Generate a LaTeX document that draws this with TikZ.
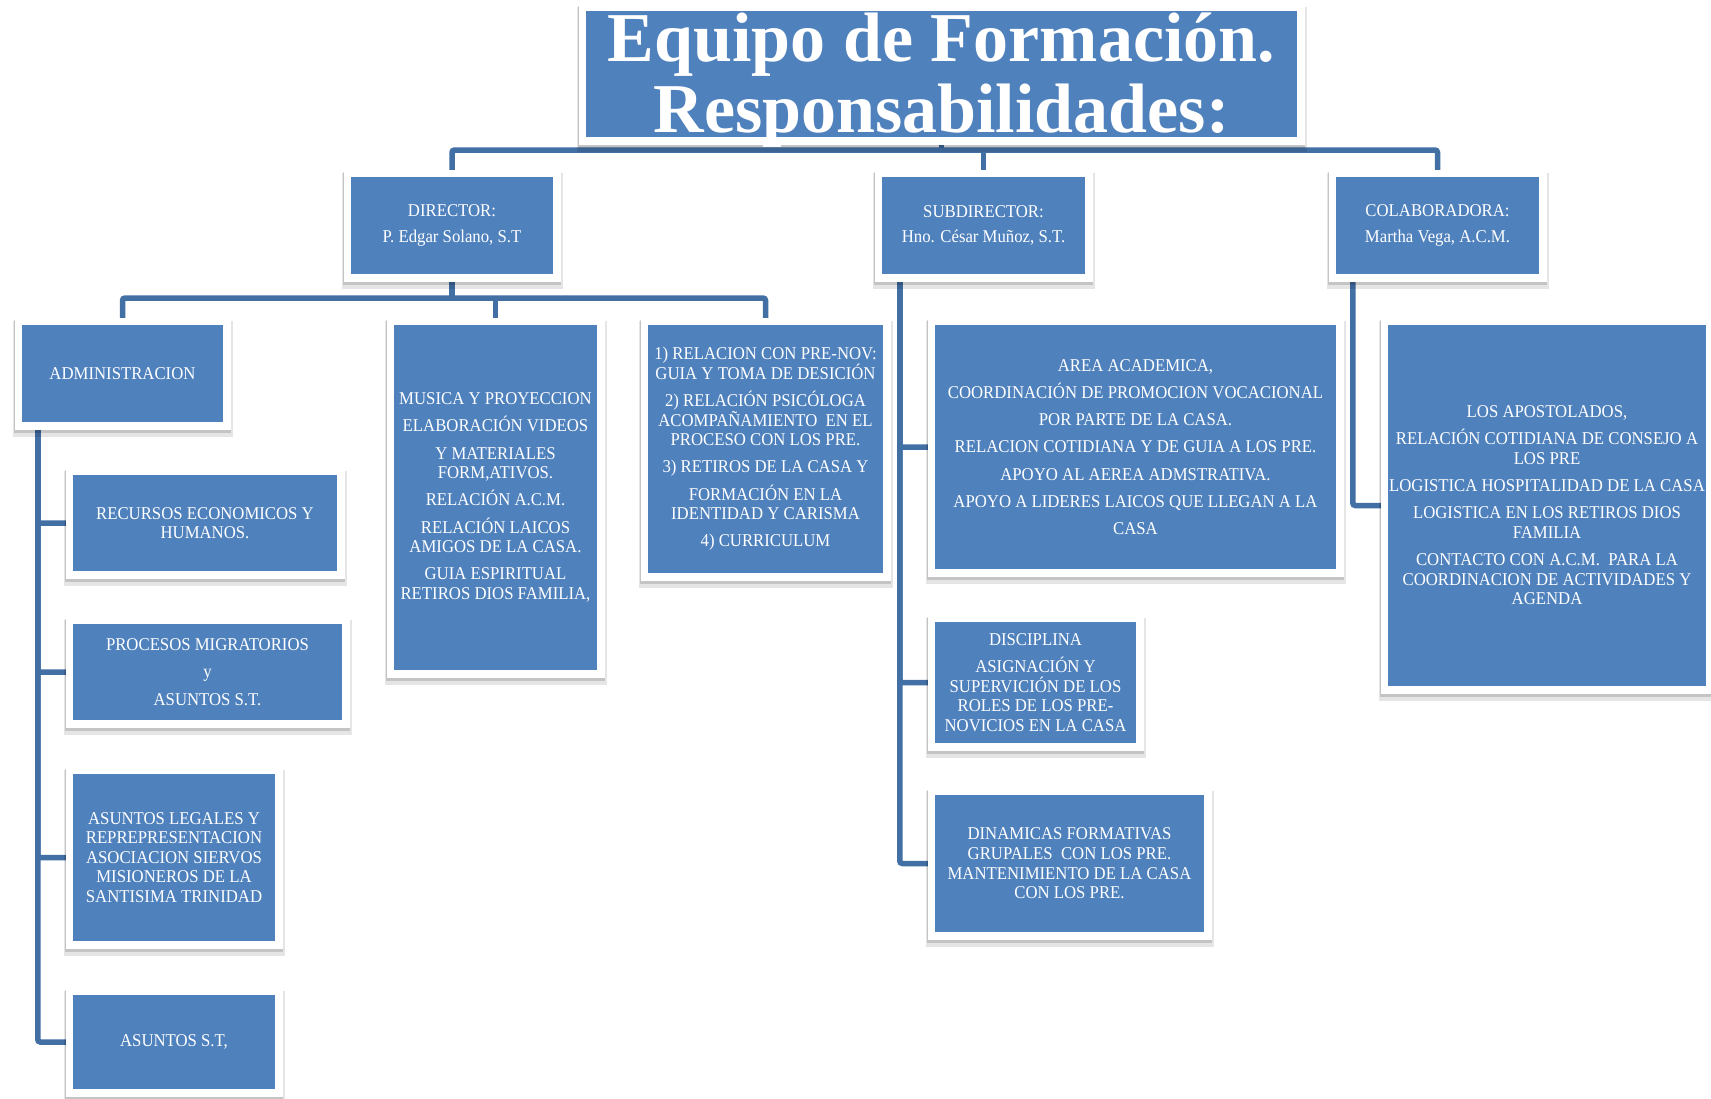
\documentclass[tikz,border=0pt]{standalone}
\usepackage{fontspec}
\setmainfont{Liberation Serif}
\newfontfamily\bodyfont{Liberation Serif}[FakeStretch=0.93]
\newfontfamily\titlefont{Liberation Serif}
\usetikzlibrary{backgrounds}
\definecolor{boxblue}{HTML}{4F81BD}
\definecolor{linkblue}{HTML}{4270A5}
\newcommand{\np}{\\[7.6pt]}
\tikzset{
  card/.style={fill=boxblue, inner sep=0pt, text=white, align=center,
    font={\bodyfont\fontsize{18}{19.6}\selectfont},
    preaction={draw=black, draw opacity=0.10, line width=19pt, transform canvas={yshift=-5pt}},
    preaction={draw=black, draw opacity=0.14, line width=16pt, transform canvas={yshift=-3pt}},
    preaction={draw=white, line width=15pt}},
  titletext/.style={inner sep=0pt, text=white, align=center,
    font={\titlefont\bfseries\fontsize{70}{71}\selectfont}},
  link/.style={draw=linkblue, line width=5.5pt, rounded corners=2.5pt},
}
\begin{document}
\begin{tikzpicture}[x=1pt,y=-1pt]
\useasboundingbox (0,0) rectangle (1711,1098);

\node[card, minimum width=711pt, minimum height=126pt] (title) at (941.5,74) {};
\node[titletext] (titletxt) at (941.5,80) {Equipo de Formación.\\Responsabilidades:};

\node[card, minimum width=202pt, minimum height=97pt] (dir) at (452,225.5)
  {DIRECTOR:\\[6pt]P. Edgar Solano, S.T};
\node[card, minimum width=203pt, minimum height=97pt] (sub) at (983.5,225.5)
  {SUBDIRECTOR:\\[6pt]Hno. César Muñoz, S.T.};
\node[card, minimum width=203pt, minimum height=97pt] (col) at (1437.5,225.5)
  {COLABORADORA:\\[6pt]Martha Vega, A.C.M.};

\node[card, minimum width=201pt, minimum height=97pt] (adm) at (122.5,373.5)
  {ADMINISTRACION};
\node[card, minimum width=203pt, minimum height=345pt] (mus) at (495.5,497.5)
  {MUSICA Y PROYECCION\np ELABORACIÓN VIDEOS\np Y MATERIALES\\FORM,ATIVOS.\np
   RELACIÓN A.C.M.\np RELACIÓN LAICOS\\AMIGOS DE LA CASA.\np GUIA ESPIRITUAL\\RETIROS DIOS FAMILIA,};
\node[card, minimum width=235pt, minimum height=248pt] (rel) at (765.5,449)
  {1) RELACION CON PRE-NOV:\\GUIA Y TOMA DE DESICIÓN\np 2) RELACIÓN PSICÓLOGA\\ACOMPAÑAMIENTO\ \ EN EL\\PROCESO CON LOS PRE.\np
   3) RETIROS DE LA CASA Y\np FORMACIÓN EN LA\\IDENTIDAD Y CARISMA\np 4) CURRICULUM};

\node[card, minimum width=264pt, minimum height=96pt] (rec) at (205,523)
  {RECURSOS ECONOMICOS Y\\HUMANOS.};
\node[card, minimum width=269pt, minimum height=96pt] (pro) at (207.5,672)
  {PROCESOS MIGRATORIOS\np y\np ASUNTOS S.T.};
\node[card, minimum width=202pt, minimum height=167pt] (leg) at (174,857.5)
  {ASUNTOS LEGALES Y\\REPREPRESENTACION\\ASOCIACION SIERVOS\\MISIONEROS DE LA\\SANTISIMA TRINIDAD};
\node[card, minimum width=202pt, minimum height=94pt] (ast) at (174,1042)
  {ASUNTOS S.T,};

\node[card, minimum width=401pt, minimum height=244pt] (aca) at (1135.5,447)
  {AREA ACADEMICA,\np COORDINACIÓN DE PROMOCION VOCACIONAL\np POR PARTE DE LA CASA.\np
   RELACION COTIDIANA Y DE GUIA A LOS PRE.\np APOYO AL AEREA ADMSTRATIVA.\np
   APOYO A LIDERES LAICOS QUE LLEGAN A LA\np CASA};
\node[card, minimum width=201pt, minimum height=121pt] (dis) at (1035.5,682.5)
  {DISCIPLINA\np ASIGNACIÓN Y\\SUPERVICIÓN DE LOS\\ROLES DE LOS PRE-\\NOVICIOS EN LA CASA};
\node[card, minimum width=269pt, minimum height=137pt] (din) at (1069.5,863.5)
  {DINAMICAS FORMATIVAS\\GRUPALES\ \ CON LOS PRE.\\MANTENIMIENTO DE LA CASA\\CON LOS PRE.};

\node[card, minimum width=318pt, minimum height=361pt] (apo) at (1547,505.5)
  {LOS APOSTOLADOS,\np RELACIÓN COTIDIANA DE CONSEJO A\\LOS PRE\np LOGISTICA HOSPITALIDAD DE LA CASA\np
   LOGISTICA EN LOS RETIROS DIOS\\FAMILIA\np CONTACTO CON A.C.M.\ \ PARA LA\\COORDINACION DE ACTIVIDADES Y\\AGENDA};

\begin{scope}[on background layer]
  \fill[white] (0,0) rectangle (1711,1098);
  \coordinate (b1) at (941.5,150);
  \coordinate (b2) at (452,298);
  \draw[link] (title.south) -- (b1);
  \draw[link] (dir.north) |- (b1) -| (col.north);
  \draw[link] (sub.north) -- (sub.north |- b1);
  \draw[link] (dir.south) -- (b2);
  \draw[link] (adm.north) |- (b2) -| (rel.north);
  \draw[link] (mus.north) -- (mus.north |- b2);
  \draw[link] (adm.south west) ++(16,0) |- (rec.west);
  \draw[link] (adm.south west) ++(16,0) |- (pro.west);
  \draw[link] (adm.south west) ++(16,0) |- (leg.west);
  \draw[link] (adm.south west) ++(16,0) |- (ast.west);
  \draw[link] (sub.south west) ++(18,0) |- (aca.west);
  \draw[link] (sub.south west) ++(18,0) |- (dis.west);
  \draw[link] (sub.south west) ++(18,0) |- (din.west);
  \draw[link] (col.south west) ++(17,0) |- (apo.west);
\end{scope}
\end{tikzpicture}
\end{document}
